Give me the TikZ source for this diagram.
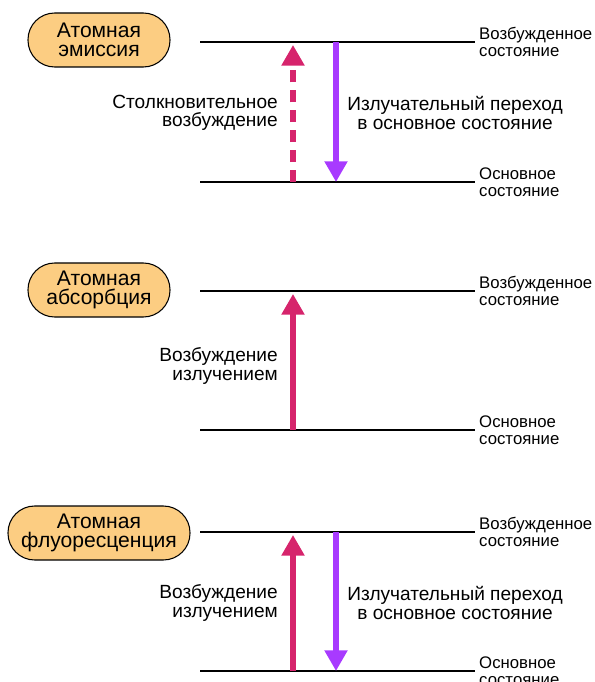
\documentclass[tikz,border=0pt]{standalone}
\usepackage{fontspec}
\setmainfont{Liberation Sans}
\usetikzlibrary{arrows.meta,positioning}
\definecolor{excite}{RGB}{214,36,108}
\definecolor{emit}{RGB}{168,58,255}
\definecolor{boxfill}{RGB}{252,205,130}

\begin{document}
\begin{tikzpicture}[x=0.03cm,y=-0.03cm,
  level/.style={line width=2.2pt},
  procbox/.style={draw,line width=0.9pt,fill=boxfill,rounded corners=0.8cm,
    minimum height=1.62cm,minimum width=4.26cm,align=center,inner sep=0pt,
    font=\fontsize{18}{16.6}\selectfont},
  statelbl/.style={anchor=west,align=left,inner sep=0pt,
    font=\fontsize{14.3}{14.5}\selectfont},
  proclbl/.style={align=center,inner sep=0pt,font=\fontsize{16.3}{15.6}\selectfont},
  up/.style={excite,line width=4.3pt,-{Triangle[width=0.66cm,length=0.62cm]},shorten >=2.5pt},
  down/.style={emit,line width=4.3pt,-{Triangle[width=0.66cm,length=0.62cm]}}]
\useasboundingbox (0,0) rectangle (594,682);

% emission
\node[procbox] (emis) at (99,40) {Атомная\\эмиссия};
\coordinate (ae1) at (200,42);
\coordinate (be1) at (475,42);
\coordinate (ae0) at (200,182);
\coordinate (be0) at (475,182);
\draw[level] (ae1) -- (be1);
\draw[level] (ae0) -- (be0);
\node[statelbl] (exe) at ([xshift=0.12cm]be1) {Возбужденное\\состояние};
\node[statelbl] (gre) at ([xshift=0.12cm]be0) {Основное\\состояние};
\coordinate (ue0) at (293,182);
\coordinate (ue1) at (293,42);
\coordinate (de1) at (336,42);
\coordinate (de0) at (336,182);
\draw[up,dash pattern=on 10.5pt off 6.5pt] (ue0) -- (ue1);
\draw[down] (de1) -- (de0);
\node[proclbl,anchor=east,align=right] (coll) at (278,113) {Столкновительное\\возбуждение};
\node[proclbl] (rade) at (455,113) {Излучательный переход\\в основное состояние};

% absorption
\node[procbox] (abs) at (99,290) {Атомная\\абсорбция};
\coordinate (aa1) at (200,291);
\coordinate (ba1) at (475,291);
\coordinate (aa0) at (200,430);
\coordinate (ba0) at (475,430);
\draw[level] (aa1) -- (ba1);
\draw[level] (aa0) -- (ba0);
\node[statelbl] (exa) at ([xshift=0.12cm]ba1) {Возбужденное\\состояние};
\node[statelbl] (gra) at ([xshift=0.12cm]ba0) {Основное\\состояние};
\coordinate (ua0) at (293,430);
\coordinate (ua1) at (293,291);
\draw[up] (ua0) -- (ua1);
\node[proclbl,anchor=east,align=right] (rada) at (278,366) {Возбуждение\\излучением};

% fluorescence
\node[procbox,minimum width=5.46cm] (fluo) at (99,533) {Атомная\\флуоресценция};
\coordinate (af1) at (200,532);
\coordinate (bf1) at (475,532);
\coordinate (af0) at (200,671);
\coordinate (bf0) at (475,671);
\draw[level] (af1) -- (bf1);
\draw[level] (af0) -- (bf0);
\node[statelbl] (exf) at ([xshift=0.12cm]bf1) {Возбужденное\\состояние};
\node[statelbl] (grf) at ([xshift=0.12cm]bf0) {Основное\\состояние};
\coordinate (uf0) at (293,671);
\coordinate (uf1) at (293,532);
\coordinate (df1) at (336,532);
\coordinate (df0) at (336,671);
\draw[up] (uf0) -- (uf1);
\draw[down] (df1) -- (df0);
\node[proclbl,anchor=east,align=right] (radf) at (278,603) {Возбуждение\\излучением};
\node[proclbl] (radef) at (455,603) {Излучательный переход\\в основное состояние};
\end{tikzpicture}
\end{document}
